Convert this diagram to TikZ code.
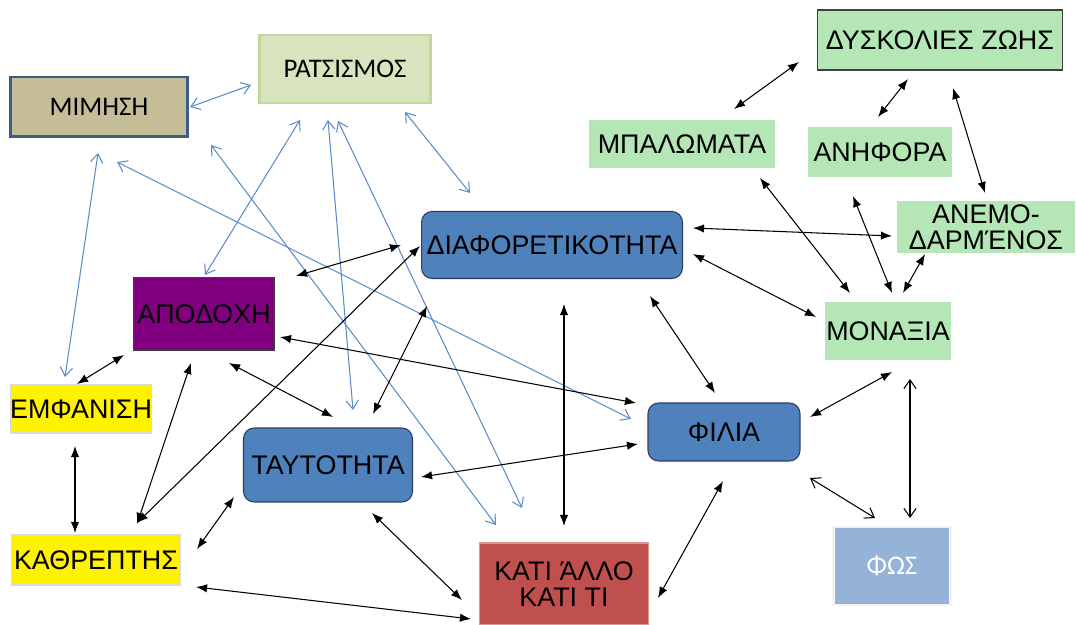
\documentclass[tikz,border=0pt]{standalone}
\usepackage{fontspec}
\setmainfont{Liberation Sans}
\newfontfamily\calibri{Carlito}
\usepackage{tikz}
\usetikzlibrary{arrows.meta, calc}

\definecolor{mimhshfill}{HTML}{C4BD97}
\definecolor{mimhshline}{HTML}{385D8A}
\definecolor{ratsfill}{HTML}{D7E4BD}
\definecolor{ratsline}{HTML}{C3D69B}
\definecolor{lightgreen}{HTML}{B4E6B6}
\definecolor{boxblue}{HTML}{4F81BD}
\definecolor{boxblueline}{HTML}{2A3F5F}
\definecolor{purplebox}{HTML}{800080}
\definecolor{redbox}{HTML}{C0504D}
\definecolor{redline}{HTML}{D99694}
\definecolor{fosfill}{HTML}{95B3D7}
\definecolor{linkblue}{HTML}{5B8CC8}

\tikzset{
    every node/.style={font=\fontsize{15.3}{17}\selectfont, inner sep=0pt, align=center},
    greenbox/.style={fill=lightgreen},
    bluebox/.style={fill=boxblue, draw=boxblueline, line width=0.6pt, rounded corners=6pt},
    yellowbox/.style={fill=yellow, draw=black!15, line width=0.6pt},
    both/.style={{Latex[length=6.3pt,width=4.8pt]}-{Latex[length=6.3pt,width=4.8pt]}, line width=0.6pt},
    bothopen/.style={{Straight Barb[length=5pt,width=7pt]}-{Straight Barb[length=5pt,width=7pt]}, line width=0.6pt},
    blueboth/.style={bothopen, draw=linkblue},
}

\begin{document}
\begin{tikzpicture}[x=0.02cm, y=-0.02cm]
    \useasboundingbox (0,0) rectangle (1076,625);

    % boxes
    \node[fill=mimhshfill, draw=mimhshline, line width=1.7pt, minimum width=3.56cm, minimum height=1.2cm, font=\calibri\fontsize{15.3}{17}\selectfont] (mimhsh) at (99,107) {ΜΙΜΗΣΗ};
    \node[fill=ratsfill, draw=ratsline, line width=1.5pt, minimum width=3.42cm, minimum height=1.36cm, font=\calibri\fontsize{15.3}{17}\selectfont] (ratsismos) at (345,69) {ΡΑΤΣΙΣΜΟΣ};
    \node[greenbox, draw=black!75, line width=0.9pt, minimum width=4.9cm, minimum height=1.2cm] (dyskolies) at (940,40) {ΔΥΣΚΟΛΙΕΣ ΖΩΗΣ};
    \node[greenbox, minimum width=3.72cm, minimum height=0.96cm] (mpalomata) at (682,144) {ΜΠΑΛΩΜΑΤΑ};
    \node[greenbox, minimum width=2.88cm, minimum height=1.02cm] (anhfora) at (880,152) {ΑΝΗΦΟΡΑ};
    \node[greenbox, minimum width=3.58cm, minimum height=1.04cm] (anemo) at (986,227) {ΑΝΕΜΟ-\\[-2pt]ΔΑΡΜΈΝΟΣ};
    \node[greenbox, minimum width=2.54cm, minimum height=1.18cm] (monaxia) at (888,331) {ΜΟΝΑΞΙΑ};
    \node[bluebox, minimum width=5.22cm, minimum height=1.34cm] (diaf) at (552,245) {ΔΙΑΦΟΡΕΤΙΚΟΤΗΤΑ};
    \node[fill=purplebox, draw=black!75, line width=0.8pt, minimum width=2.82cm, minimum height=1.46cm] (apodoxh) at (204,314) {ΑΠΟΔΟΧΗ};
    \node[yellowbox, minimum width=2.8cm, minimum height=0.96cm] (emfanish) at (81,409) {ΕΜΦΑΝΙΣΗ};
    \node[bluebox, minimum width=3.04cm, minimum height=1.16cm] (filia) at (724,432) {ΦΙΛΙΑ};
    \node[bluebox, minimum width=3.38cm, minimum height=1.48cm] (taytothta) at (328,465) {ΤΑΥΤΟΤΗΤΑ};
    \node[yellowbox, minimum width=3.38cm, minimum height=1.0cm] (kathrepths) at (96,560) {ΚΑΘΡΕΠΤΗΣ};
    \node[fill=redbox, draw=redline, line width=0.6pt, minimum width=3.38cm, minimum height=1.64cm] (kati) at (564,584) {ΚΑΤΙ ΆΛΛΟ\\[-2pt]ΚΑΤΙ ΤΙ};
    \node[fill=fosfill, draw=black!5, line width=1.5pt, minimum width=2.34cm, minimum height=1.56cm, text=white, font=\calibri\fontsize{15.3}{17}\selectfont] (fos) at (892,566) {ΦΩΣ};

    % blue links
    \draw[blueboth] ([shift={(91,0)}]mimhsh.center) -- ([shift={(-94,16)}]ratsismos.center);
    \draw[blueboth] ([shift={(-1,46)}]mimhsh.center) -- ([shift={(-16,-32)}]emfanish.center);
    \draw[blueboth] ([shift={(18,55)}]mimhsh.center) -- ([shift={(-93,-13)}]filia.center);
    \draw[blueboth] ([shift={(112,38)}]mimhsh.center) -- ([shift={(-68,-59)}]kati.center);
    \draw[blueboth] ([shift={(-45,51)}]ratsismos.center) -- ([shift={(1,-39)}]apodoxh.center);
    \draw[blueboth] ([shift={(-17,51)}]ratsismos.center) -- ([shift={(25,-55)}]taytothta.center);
    \draw[blueboth] ([shift={(-7,52)}]ratsismos.center) -- ([shift={(-42,-76)}]kati.center);
    \draw[blueboth] ([shift={(60,43)}]ratsismos.center) -- ([shift={(-82,-52)}]diaf.center);

    % black links
    \draw[both] ([shift={(-141,22)}]dyskolies.center) -- ([shift={(52,-35)}]mpalomata.center);
    \draw[both] ([shift={(-32,39)}]dyskolies.center) -- ([shift={(-2,-35)}]anhfora.center);
    \draw[both] ([shift={(13,48)}]dyskolies.center) -- ([shift={(-1,-34)}]anemo.center);
    \draw[both] ([shift={(78,34)}]mpalomata.center) -- ([shift={(-38,-38)}]monaxia.center);
    \draw[both] ([shift={(-27,44)}]anhfora.center) -- ([shift={(4,-38)}]monaxia.center);
    \draw[both] ([shift={(-61,27)}]anemo.center) -- ([shift={(15,-38)}]monaxia.center);
    \draw[both] ([shift={(141,-17)}]diaf.center) -- ([shift={(-94,9)}]anemo.center);
    \draw[both] ([shift={(141,9)}]diaf.center) -- ([shift={(-72,-14)}]monaxia.center);
    \draw[both] ([shift={(98,51)}]diaf.center) -- ([shift={(-9,-39)}]filia.center);
    \draw[both] ([shift={(12,59)}]diaf.center) -- ([shift={(0,-58)}]kati.center);
    \draw[both] ([shift={(92,-38)}]apodoxh.center) -- ([shift={(-151,0)}]diaf.center);
    \draw[both] ([shift={(41,-37)}]kathrepths.center) -- ([shift={(-132,1)}]diaf.center);
    \draw[both] ([shift={(45,-51)}]taytothta.center) -- ([shift={(-125,61)}]diaf.center);
    \draw[both] ([shift={(25,49)}]apodoxh.center) -- ([shift={(5,-48)}]taytothta.center);
    \draw[both] ([shift={(76,23)}]apodoxh.center) -- ([shift={(-88,-29)}]filia.center);
    \draw[both] ([shift={(-80,41)}]apodoxh.center) -- ([shift={(-4,-25)}]emfanish.center);
    \draw[both] ([shift={(-13,49)}]apodoxh.center) -- ([shift={(41,-36)}]kathrepths.center);
    \draw[both] ([shift={(-6,37)}]emfanish.center) -- ([shift={(-21,-27)}]kathrepths.center);
    \draw[both] ([shift={(101,-11)}]kathrepths.center) -- ([shift={(-94,32)}]taytothta.center);
    \draw[both] ([shift={(100,27)}]kathrepths.center) -- ([shift={(-93,35)}]kati.center);
    \draw[both] ([shift={(44,48)}]taytothta.center) -- ([shift={(-102,16)}]kati.center);
    \draw[both] ([shift={(93,12)}]taytothta.center) -- ([shift={(-86,12)}]filia.center);
    \draw[both] ([shift={(94,14)}]kati.center) -- ([shift={(-1,49)}]filia.center);
    \draw[both] ([shift={(86,-15)}]filia.center) -- ([shift={(4,41)}]monaxia.center);
    \draw[bothopen] ([shift={(86,46)}]filia.center) -- ([shift={(-17,-48)}]fos.center);
    \draw[bothopen] ([shift={(22,48)}]monaxia.center) -- ([shift={(18,-48)}]fos.center);
\end{tikzpicture}
\end{document}
